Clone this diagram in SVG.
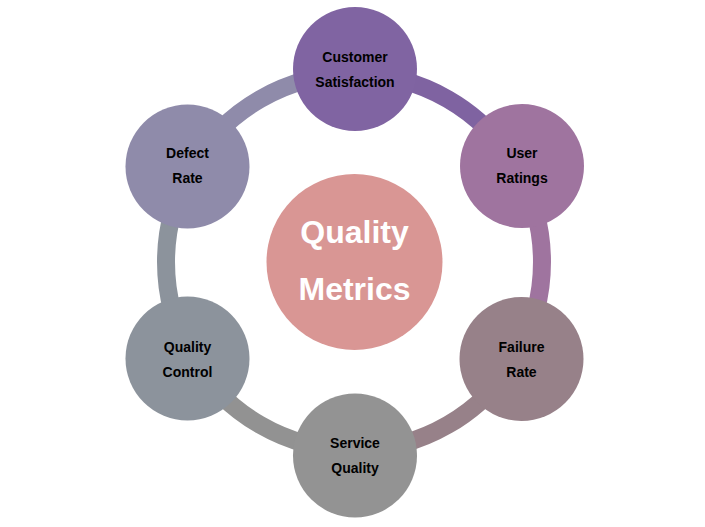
<svg xmlns="http://www.w3.org/2000/svg" width="705" height="527" viewBox="0 0 705 527">
<style>
.seg{fill:none;stroke-width:18}
.lbl{font-family:"Liberation Sans",Arial,sans-serif;font-weight:bold;font-size:14px;fill:#000;text-anchor:middle}
.ctr{font-family:"Liberation Sans",Arial,sans-serif;font-weight:bold;font-size:32px;fill:#fff;text-anchor:middle}
</style>
<rect width="705" height="527" fill="#fff"/>
<g id="connectors">
<path class="seg" stroke="#7F63A1" d="M354 74 A188 188 0 0 1 516.8 168"/>
<path class="seg" stroke="#9F749F" d="M516.8 168 A188 188 0 0 1 516.8 356"/>
<path class="seg" stroke="#978189" d="M516.8 356 A188 188 0 0 1 354 450"/>
<path class="seg" stroke="#929292" d="M354 450 A188 188 0 0 1 191.2 356"/>
<path class="seg" stroke="#8C939C" d="M191.2 356 A188 188 0 0 1 191.2 168"/>
<path class="seg" stroke="#8F8BAA" d="M191.2 168 A188 188 0 0 1 354 74"/>
</g>
<g id="center">
<circle cx="354.5" cy="262" r="88" fill="#D99694"/>
<text class="ctr" x="354.5" y="243">Quality</text>
<text class="ctr" x="354.5" y="300">Metrics</text>
</g>
<g id="customer-satisfaction">
<circle cx="355" cy="69" r="62" fill="#8064A2"/>
<text class="lbl" x="355" y="62">Customer</text>
<text class="lbl" x="355" y="87">Satisfaction</text>
</g>
<g id="user-ratings">
<circle cx="522" cy="166" r="62" fill="#9F749F"/>
<text class="lbl" x="522" y="158">User</text>
<text class="lbl" x="522" y="183">Ratings</text>
</g>
<g id="failure-rate">
<circle cx="521.5" cy="359" r="62" fill="#978189"/>
<text class="lbl" x="521.5" y="352">Failure</text>
<text class="lbl" x="521.5" y="377">Rate</text>
</g>
<g id="service-quality">
<circle cx="355" cy="455.5" r="62" fill="#939393"/>
<text class="lbl" x="355" y="448">Service</text>
<text class="lbl" x="355" y="473">Quality</text>
</g>
<g id="quality-control">
<circle cx="187.5" cy="358.5" r="62" fill="#8C939C"/>
<text class="lbl" x="187.5" y="352">Quality</text>
<text class="lbl" x="187.5" y="377">Control</text>
</g>
<g id="defect-rate">
<circle cx="187.5" cy="166.5" r="62" fill="#8F8BAA"/>
<text class="lbl" x="187.5" y="158">Defect</text>
<text class="lbl" x="187.5" y="183">Rate</text>
</g>
</svg>
